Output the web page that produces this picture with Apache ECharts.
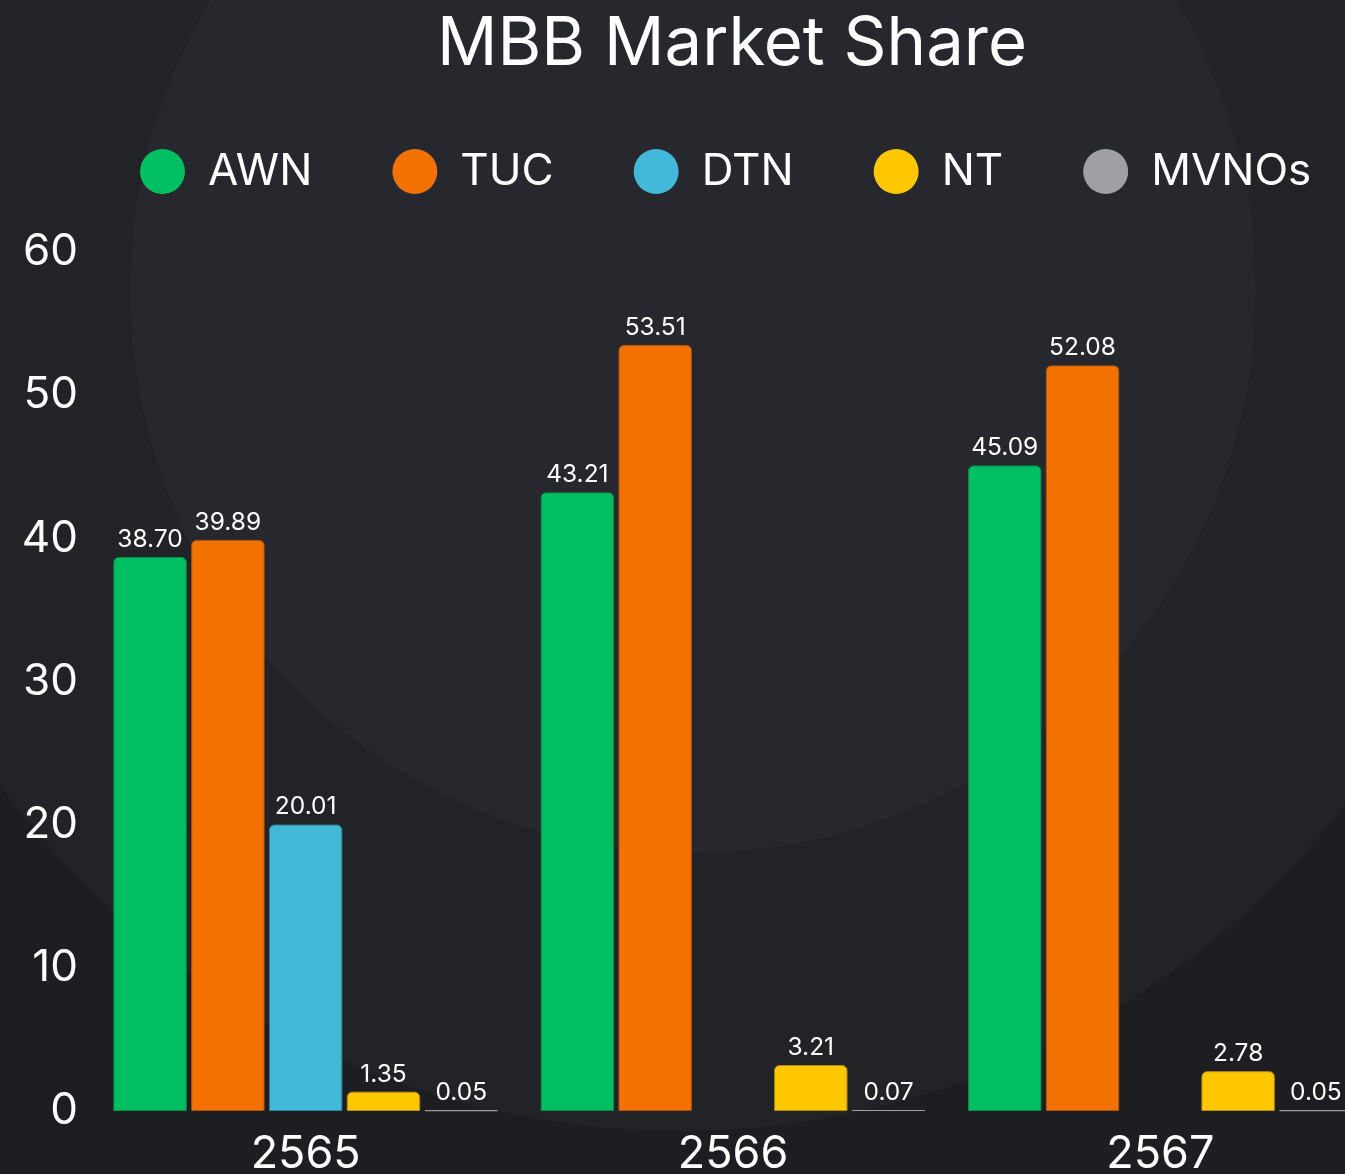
<!DOCTYPE html>
<html>
<head>
<meta charset="utf-8">
<script src="https://cdn.jsdelivr.net/npm/echarts@6/dist/echarts.min.js"></script>
<style>
  html, body { margin: 0; padding: 0; background: #1d1e22; }
  #chart { width: 1345px; height: 1174px; }
</style>
</head>
<body>
<div id="chart"></div>
<script>
const years = ['2565', '2566', '2567'];
const awn = [38.70, 43.21, 45.09];
const tuc = [39.89, 53.51, 52.08];
const dtn = [20.01, null, null];
const nt = [1.35, 3.21, 2.78];
const mvnos = [0.05, 0.07, 0.05];
const yTicks = [0, 10, 20, 30, 40, 50, 60];

const font = 'Inter';

function makeSeries(name, data, color, border) {
  return {
    name: name,
    type: 'bar',
    data: data,
    barGap: '6%',
    barCategoryGap: '10%',
    itemStyle: {
      color: color,
      borderRadius: [5, 5, 0, 0],
      borderColor: border,
      borderWidth: 1
    },
    label: {
      show: true,
      position: 'top',
      distance: 5,
      color: '#ffffff',
      fontFamily: font,
      fontSize: 24.5,
      formatter: function (p) {
        return p.value == null ? '' : Number(p.value).toFixed(2);
      }
    }
  };
}

const chart = echarts.init(document.getElementById('chart'));
const option = {
  backgroundColor: '#1d1e22',
  animation: false,
  graphic: [
    {
      type: 'circle',
      z: -10,
      silent: true,
      shape: { cx: 680, cy: 290, r: 841 },
      style: { fill: '#212327' }
    },
    {
      type: 'circle',
      z: -9,
      silent: true,
      shape: { cx: 693, cy: 290, r: 563 },
      style: { fill: '#27282d' }
    }
  ],
  title: {
    text: 'MBB Market Share',
    left: 432,
    top: 6,
    textStyle: {
      color: '#ffffff',
      fontFamily: font,
      fontSize: 67,
      fontWeight: 'normal'
    }
  },
  legend: {
    left: 135,
    top: 144,
    icon: 'circle',
    itemWidth: 45,
    itemHeight: 45,
    itemGap: 80,
    itemStyle: { borderWidth: 0 },
    textStyle: {
      color: '#ffffff',
      fontFamily: font,
      fontSize: 44,
      padding: [0, 0, 0, 18]
    }
  },
  grid: {
    left: 92,
    width: 1282,
    top: 252,
    bottom: 63,
    containLabel: false,
    outerBoundsMode: 'none'
  },
  xAxis: {
    type: 'category',
    data: years,
    axisLine: { show: false },
    axisTick: { show: false },
    axisLabel: {
      color: '#ffffff',
      fontFamily: font,
      fontSize: 45,
      margin: 21
    }
  },
  yAxis: {
    type: 'value',
    min: 0,
    max: 60,
    interval: 10,
    splitLine: { show: false },
    axisLine: { show: false },
    axisTick: { show: false },
    axisLabel: {
      color: '#ffffff',
      fontFamily: font,
      fontSize: 44,
      margin: 14,
      formatter: function (v) {
        return yTicks.indexOf(v) >= 0 ? String(v) : '';
      }
    }
  },
  series: [
    makeSeries('AWN', awn, '#00bf63', '#0a8a4c'),
    makeSeries('TUC', tuc, '#f27100', '#a8560f'),
    makeSeries('DTN', dtn, '#43b8d8', '#2f7f96'),
    makeSeries('NT', nt, '#ffc700', '#b38d0a'),
    makeSeries('MVNOs', mvnos, '#a0a0a4', '#a0a0a4')
  ]
};
chart.setOption(option);
</script>
</body>
</html>
